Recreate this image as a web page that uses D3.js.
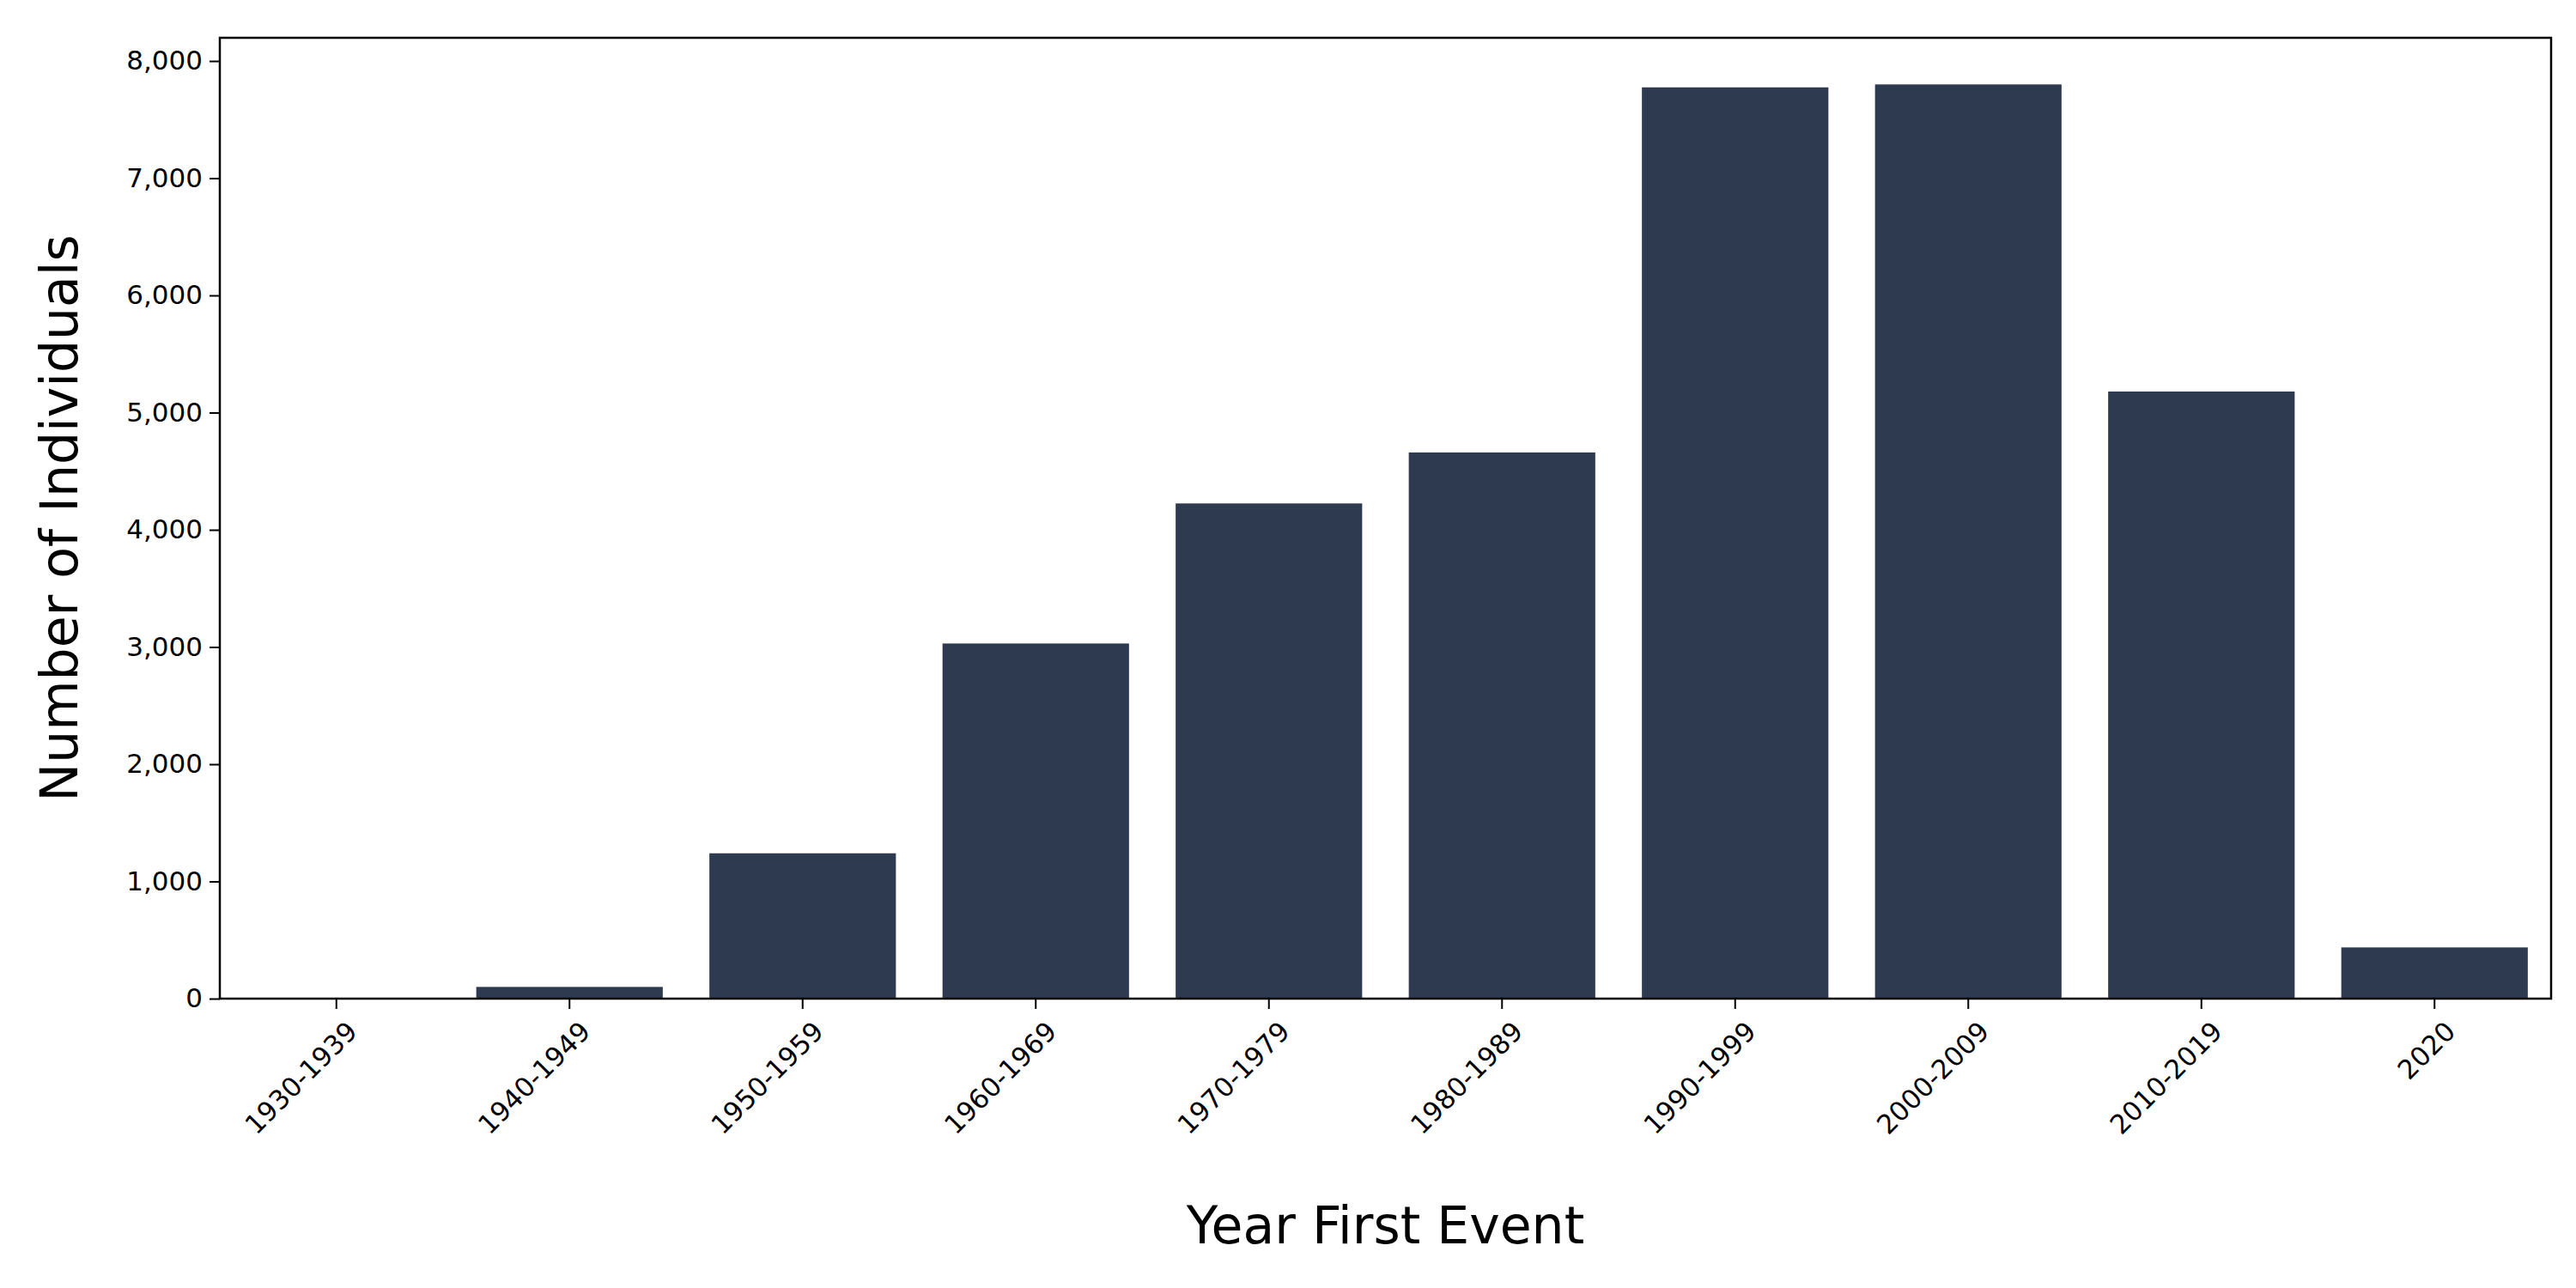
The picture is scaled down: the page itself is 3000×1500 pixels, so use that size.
<!DOCTYPE html>
<html>
<head>
<meta charset="utf-8">
<script src="https://cdn.jsdelivr.net/npm/d3@7"></script>
<style>
  body { margin: 0; background: #fff; }
  text { font-family: "DejaVu Sans", sans-serif; fill: #000; }
</style>
</head>
<body>
<div id="chart"></div>
<script>
const categories = ["1930-1939", "1940-1949", "1950-1959", "1960-1969", "1970-1979",
    "1980-1989", "1990-1999", "2000-2009", "2010-2019", "2020"]
const counts = [3, 100, 1240, 3030, 4225, 4660, 7775, 7800, 5180, 437]
const yTicks = [0, 1000, 2000, 3000, 4000, 5000, 6000, 7000, 8000]

const width = 3000
let dimensions = {
    width: width,
    height: 1500,
    margin: { top: 44, right: 29, bottom: 337, left: 256 },
}
dimensions.boundedWidth = dimensions.width - dimensions.margin.left - dimensions.margin.right
dimensions.boundedHeight = dimensions.height - dimensions.margin.top - dimensions.margin.bottom

const svg = d3.select('#chart')
    .append('svg')
    .attr("width", dimensions.width)
    .attr("height", dimensions.height)

const bounds = svg.append("g")
    .attr("transform", `translate(${dimensions.margin.left},${dimensions.margin.top})`)

const xScale = d3.scaleBand()
    .domain(categories)
    .range([0, dimensions.boundedWidth])
    .paddingInner(0.2)
    .paddingOuter(0.1)

const yScale = d3.scaleLinear()
    .domain([0, 8198])
    .range([dimensions.boundedHeight, 0])

// bars
bounds.selectAll(".bar")
    .data(counts)
    .join("rect")
    .attr("class", "bar")
    .attr("x", (d, i) => xScale(categories[i]))
    .attr("y", d => yScale(d))
    .attr("width", xScale.bandwidth())
    .attr("height", d => dimensions.boundedHeight - yScale(d))
    .attr("fill", "#2e3a50")

// axes
const xAxis = bounds.append("g")
    .attr("transform", `translate(0,${dimensions.boundedHeight})`)
    .call(d3.axisBottom(xScale).tickSize(12).tickPadding(8).tickSizeOuter(0))
xAxis.select(".domain").remove()
xAxis.selectAll("line").attr("stroke-width", 2)
xAxis.selectAll("text")
    .style("font-size", "31px")
    .attr("text-anchor", "end")
    .attr("dx", "0")
    .attr("dy", "0")
    .attr("transform", "translate(12,26) rotate(-45)")

const yAxis = bounds.append("g")
    .call(d3.axisLeft(yScale).tickValues(yTicks).tickSize(12).tickPadding(8).tickSizeOuter(0))
yAxis.select(".domain").remove()
yAxis.selectAll("line").attr("stroke-width", 2)
yAxis.selectAll("text").style("font-size", "31px")

// frame
bounds.append("rect")
    .attr("width", dimensions.boundedWidth)
    .attr("height", dimensions.boundedHeight)
    .attr("fill", "none")
    .attr("stroke", "#000")
    .attr("stroke-width", 2.5)

// labels
svg.append("text")
    .attr("x", dimensions.margin.left + dimensions.boundedWidth / 2)
    .attr("y", 1448)
    .attr("text-anchor", "middle")
    .style("font-size", "60px")
    .text("Year First Event")

svg.append("text")
    .attr("transform", `translate(90,${dimensions.margin.top + dimensions.boundedHeight / 2}) rotate(-90)`)
    .attr("text-anchor", "middle")
    .style("font-size", "60px")
    .text("Number of Individuals")
</script>
</body>
</html>
